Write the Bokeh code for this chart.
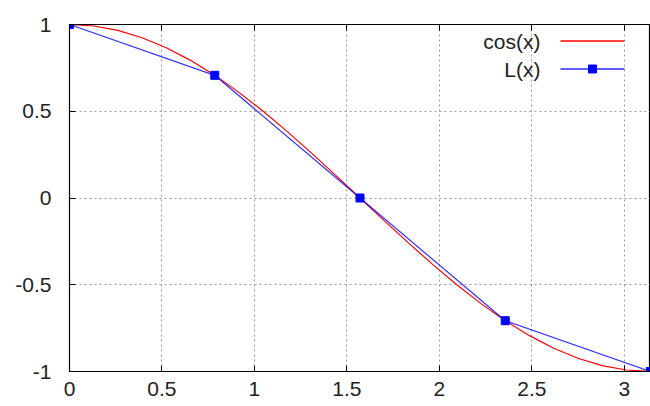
from bokeh.plotting import figure
from bokeh.models import (Range1d, SingleIntervalTicker, LinearAxis, Label,
                          BoxAnnotation, Arrow)
from bokeh.embed import file_html
from bokeh.resources import INLINE

# cos(x) curve samples (x in radians)
cos_x = [0.0, 0.1309, 0.2618, 0.3927, 0.5236, 0.6545, 0.7854, 0.9163, 1.0472,
         1.1781, 1.3090, 1.4399, 1.5708, 1.7017, 1.8326, 1.9635, 2.0944,
         2.2253, 2.3562, 2.4871, 2.6180, 2.7489, 2.8798, 3.0107, 3.1416]
cos_y = [1.0, 0.9914, 0.9659, 0.9239, 0.8660, 0.7934, 0.7071, 0.6088, 0.5,
         0.3827, 0.2588, 0.1305, 0.0, -0.1305, -0.2588, -0.3827, -0.5,
         -0.6088, -0.7071, -0.7934, -0.8660, -0.9239, -0.9659, -0.9914, -1.0]

# L(x) interpolation nodes
l_x = [0.0, 0.7854, 1.5708, 2.3562, 3.1416]
l_y = [1.0, 0.7071, 0.0, -0.7071, -1.0]

series_names = ["cos(x)", "L(x)"]

# tick labels (gnuplot style, ASCII hyphen for minus)
y_ticks = [-1, -0.5, 0, 0.5, 1]
y_tick_labels = ["-1", "-0.5", "0", "0.5", "1"]

FONT = "Liberation Sans"
FS = "21px"
TXT = "#222222"

p = figure(width=650, height=406, output_backend="svg", toolbar_location=None,
           x_range=Range1d(0, 3.14159), y_range=Range1d(-1, 1),
           min_border_left=69, min_border_right=0, min_border_top=24,
           min_border_bottom=35, background_fill_color="white",
           border_fill_color="white")

p.outline_line_color = "black"
p.outline_line_width = 1.2

for ax in (p.xaxis[0], p.yaxis[0]):
    ax.ticker = SingleIntervalTicker(interval=0.5)
    ax.major_tick_in = 6
    ax.major_tick_out = 0
    ax.minor_tick_in = 0
    ax.minor_tick_out = 0
    ax.axis_line_color = "black"
    ax.major_tick_line_color = "black"
    ax.major_label_text_font = FONT
    ax.major_label_text_font_size = FS
    ax.major_label_text_color = TXT
p.xaxis.major_label_standoff = 10
p.yaxis.major_label_standoff = 18
p.yaxis.major_label_text_align = "right"
p.yaxis.major_label_overrides = dict(zip(y_ticks, y_tick_labels))

top = LinearAxis(ticker=SingleIntervalTicker(interval=0.5), major_tick_in=6,
                 major_tick_out=0, minor_tick_in=0, minor_tick_out=0,
                 major_label_text_font_size="1px", major_label_standoff=0,
                 major_label_text_color=None, axis_line_color="black")
p.add_layout(top, "above")

for g in (p.xgrid[0], p.ygrid[0]):
    g.ticker = SingleIntervalTicker(interval=0.5)
    g.grid_line_color = "#9a9a9a"
    g.grid_line_dash = "2 3"
    g.grid_line_width = 1

p.line(cos_x, cos_y, line_color="#ff0000", line_width=1.2)
p.line(l_x, l_y, line_color="#0000ff", line_width=1.2, line_alpha=0.8)
p.scatter(l_x, l_y, marker="square", size=8, fill_color="#0000ff",
          line_color="#0000ff")

# legend (gnuplot style: text right-aligned, then sample); screen units are
# relative to the plot frame's bottom-left corner
rows = [(series_names[0], 330, "#ff0000", 1.0, False),
        (series_names[1], 302, "#0000ff", 0.85, True)]
for name, sy, col, alpha, mark in rows:
    p.add_layout(Label(x=471, y=sy, x_units="screen", y_units="screen",
                       text=name, text_align="right", text_baseline="middle",
                       text_font=FONT, text_font_size=FS, text_color=TXT))
    p.add_layout(Arrow(end=None, x_start=491, y_start=sy + 0.5, x_end=555,
                       y_end=sy + 0.5, start_units="screen", end_units="screen",
                       line_color=col, line_alpha=alpha, line_width=1.5))
    if mark:
        p.add_layout(BoxAnnotation(left=519, right=527, bottom=sy - 3.5,
                                   top=sy + 4.5,
                                   left_units="screen", right_units="screen",
                                   bottom_units="screen", top_units="screen",
                                   fill_color=col, fill_alpha=1, line_color=col,
                                   line_alpha=1, line_width=1))

open("out.html", "w").write(file_html(p, INLINE))
